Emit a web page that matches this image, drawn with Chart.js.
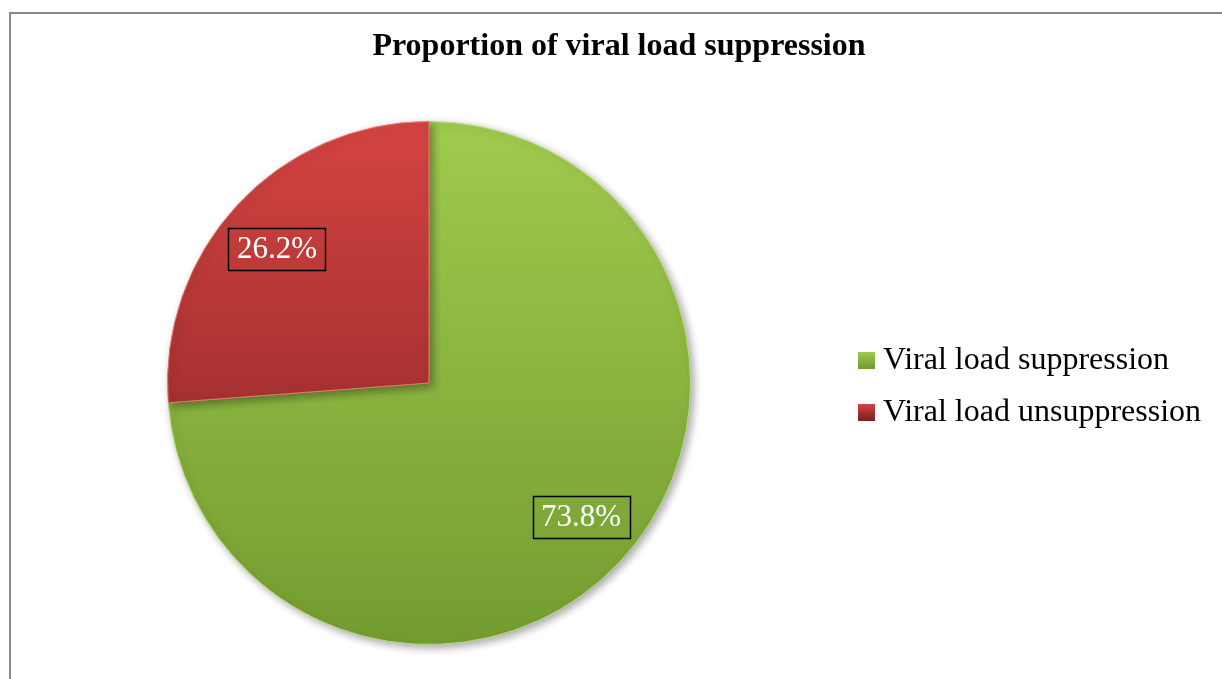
<!DOCTYPE html>
<html>
<head>
<meta charset="utf-8">
<script src="https://cdn.jsdelivr.net/npm/chart.js@4"></script>
<style>
    html, body { margin: 0; padding: 0; background: #fff; overflow: hidden; }
    #frame {
        position: absolute; left: 9px; top: 12px; width: 1240px; height: 700px;
        border-top: 2px solid #888; border-left: 2px solid #888;
    }
    #wrap { position: absolute; left: 0; top: 0; width: 1222px; height: 679px; }
</style>
</head>
<body>
<div id="frame"></div>
<div id="wrap"><canvas id="pieChart" width="1222" height="679"></canvas></div>
<script>
// Pie chart: proportion of viral load suppression

const TITLE = 'Proportion of viral load suppression';
const labels = ['Viral load suppression', 'Viral load unsuppression'];
const values = [73.8, 26.2];
const valueLabels = ['73.8%', '26.2%'];

const COLORS = {
    greenTop: '#a0cb4e',
    greenBottom: '#739c30',
    redTop: '#d44442',
    redBottom: '#7e2020',
    greenEdge: 'rgba(190, 225, 130, 0.9)',
    redEdge: 'rgba(235, 120, 120, 0.9)'
};

const SERIF = '"Liberation Serif", "Times New Roman", serif';

// vertical gradient over the whole pie
function sliceFill(context) {
    const chart = context.chart;
    const area = chart.chartArea;
    if (!area) return context.dataIndex === 0 ? COLORS.greenTop : COLORS.redTop;
    const g = chart.ctx.createLinearGradient(0, area.top, 0, area.bottom);
    if (context.dataIndex === 0) {
        g.addColorStop(0, COLORS.greenTop);
        g.addColorStop(1, COLORS.greenBottom);
    } else {
        g.addColorStop(0, COLORS.redTop);
        g.addColorStop(1, COLORS.redBottom);
    }
    return g;
}

const shadowPlugin = {
    id: 'pieShadow',
    beforeDatasetDraw(chart) {
        const ctx = chart.ctx;
        ctx.save();
        ctx.shadowColor = 'rgba(0, 0, 0, 0.35)';
        ctx.shadowBlur = 8;
        ctx.shadowOffsetX = 3;
        ctx.shadowOffsetY = 3;
    },
    afterDatasetDraw(chart) {
        chart.ctx.restore();
    }
};

// title, value boxes and legend
const decorPlugin = {
    id: 'decor',
    afterDraw(chart) {
        const ctx = chart.ctx;
        ctx.save();

        // title
        ctx.fillStyle = '#000';
        ctx.font = 'bold 32px ' + SERIF;
        ctx.textAlign = 'center';
        ctx.textBaseline = 'alphabetic';
        ctx.fillText(TITLE, 619, 55);

        // value labels in boxes
        const meta = chart.getDatasetMeta(0);
        meta.data.forEach((arc, i) => {
            const p = arc.getProps(['x', 'y', 'startAngle', 'endAngle', 'outerRadius'], true);
            const mid = (p.startAngle + p.endAngle) / 2 - 0.025;
            const r = p.outerRadius * 0.775;
            const cx = p.x + Math.cos(mid) * r;
            const cy = p.y + Math.sin(mid) * r;
            const w = 97, h = 42;
            ctx.lineWidth = 1.5;
            ctx.strokeStyle = '#000';
            ctx.strokeRect(Math.round(cx - w / 2) + 0.5, Math.round(cy - h / 2) + 0.5, w, h);
            ctx.fillStyle = '#fff';
            ctx.font = '31px ' + SERIF;
            ctx.textAlign = 'center';
            ctx.textBaseline = 'middle';
            ctx.fillText(valueLabels[i], cx, cy + 1);
        });

        // legend
        const tops = [COLORS.greenTop, COLORS.redTop];
        const bottoms = [COLORS.greenBottom, COLORS.redBottom];
        const rowY = [360, 412];
        labels.forEach((lab, i) => {
            const y = rowY[i];
            const g = ctx.createLinearGradient(0, y - 8, 0, y + 8);
            g.addColorStop(0, tops[i]);
            g.addColorStop(1, bottoms[i]);
            ctx.fillStyle = g;
            ctx.fillRect(858, y - 8, 17, 17);
            ctx.fillStyle = '#000';
            ctx.font = '32px ' + SERIF;
            ctx.textAlign = 'left';
            ctx.textBaseline = 'alphabetic';
            ctx.fillText(lab, 883, y + 9);
        });

        ctx.restore();
    }
};

const ctx = document.getElementById('pieChart').getContext('2d');
new Chart(ctx, {
    type: 'pie',
    data: {
        labels: labels,
        datasets: [{
            data: values,
            backgroundColor: sliceFill,
            borderColor: [COLORS.greenEdge, COLORS.redEdge],
            borderWidth: 1
        }]
    },
    options: {
        responsive: false,
        animation: false,
        layout: {
            padding: { left: 167, right: 531, top: 121, bottom: 34 }
        },
        plugins: {
            legend: { display: false },
            title: { display: false },
            tooltip: { enabled: false }
        }
    },
    plugins: [shadowPlugin, decorPlugin]
});
</script>
</body>
</html>
